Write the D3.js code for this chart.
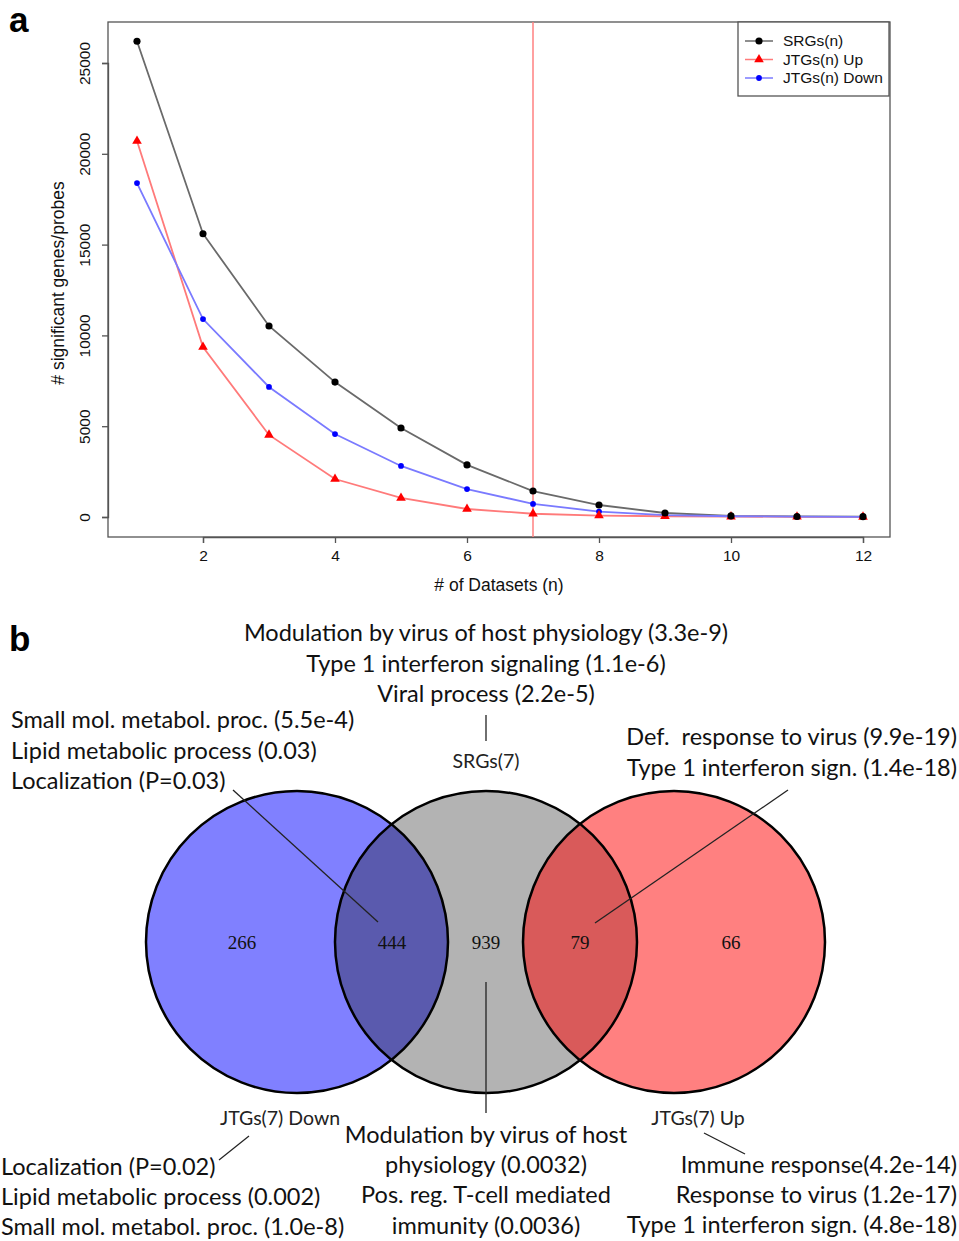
<!DOCTYPE html>
<html>
<head>
<meta charset="utf-8">
<script src="https://cdnjs.cloudflare.com/ajax/libs/d3/7.8.5/d3.min.js"></script>
<style>
  body { margin: 0; background: #fff; }
  svg { display: block; }
</style>
</head>
<body>
<div id="chart"></div>
<script>
// ---- panel a data ----
const datasets = [1, 2, 3, 4, 5, 6, 7, 8, 9, 10, 11, 12];
const srgs = [26200, 15600, 10520, 7430, 4900, 2870, 1430, 660, 220, 60, 30, 20];
const jtgsUp = [20700, 9360, 4520, 2090, 1050, 440, 180, 80, 40, 20, 10, 5];
const jtgsDown = [18390, 10900, 7160, 4570, 2810, 1540, 720, 300, 100, 40, 20, 10];
const xTicks = [2, 4, 6, 8, 10, 12];
const yTicks = [0, 5000, 10000, 15000, 20000, 25000];
const cutoff = 7;
const legendLabels = ['SRGs(n)', 'JTGs(n) Up', 'JTGs(n) Down'];

// ---- panel b data ----
const vennSets = ['JTGs(7) Down', 'SRGs(7)', 'JTGs(7) Up'];
const vennCounts = [266, 444, 939, 79, 66];
const topTerms = ['Modulation by virus of host physiology (3.3e-9)', 'Type 1 interferon signaling (1.1e-6)', 'Viral process (2.2e-5)'];
const leftTopTerms = ['Small mol. metabol. proc. (5.5e-4)', 'Lipid metabolic process (0.03)', 'Localization (P=0.03)'];
const rightTopTerms = ['Def.  response to virus (9.9e-19)', 'Type 1 interferon sign. (1.4e-18)'];
const leftBottomTerms = ['Localization (P=0.02)', 'Lipid metabolic process (0.002)', 'Small mol. metabol. proc. (1.0e-8)'];
const midBottomTerms = ['Modulation by virus of host', 'physiology (0.0032)', 'Pos. reg. T-cell mediated', 'immunity (0.0036)'];
const rightBottomTerms = ['Immune response(4.2e-14)', 'Response to virus (1.2e-17)', 'Type 1 interferon sign. (4.8e-18)'];

const W = 959, H = 1241;
const svg = d3.select('#chart').append('svg').attr('width', W).attr('height', H);
const rFont = 'Liberation Sans, Arial, sans-serif';
const cFont = 'Lato, Open Sans, sans-serif';

// panel letters
svg.append('text').attr('x', 9).attr('y', 32).text('a')
    .style('font-family', rFont).style('font-weight', 'bold').style('font-size', '35px');
svg.append('text').attr('x', 9).attr('y', 651).text('b')
    .style('font-family', rFont).style('font-weight', 'bold').style('font-size', '35px');

// ================= panel a =================
const box = {left: 108, right: 890, top: 22, bottom: 537};
const x = d3.scaleLinear().domain([2, 12]).range([203, 863]);
const y = d3.scaleLinear().domain([0, 25000]).range([517, 63]);

const gA = svg.append('g');
gA.append('rect')
    .attr('x', box.left).attr('y', box.top)
    .attr('width', box.right - box.left).attr('height', box.bottom - box.top)
    .attr('fill', 'none').attr('stroke', '#555').attr('stroke-width', 1.3);

// x axis
const xAxis = gA.append('g').attr('transform', 'translate(0,' + box.bottom + ')')
    .call(d3.axisBottom(x).tickValues(xTicks).tickSize(6).tickPadding(7));
xAxis.select('.domain').attr('stroke', '#555').attr('stroke-width', 1.3);
xAxis.selectAll('.tick line').attr('stroke', '#555').attr('stroke-width', 1.3);
xAxis.selectAll('text').style('font-family', rFont).style('font-size', '15.5px').attr('fill', '#111');

// y axis
const yAxis = gA.append('g').attr('transform', 'translate(' + box.left + ',0)')
    .call(d3.axisLeft(y).tickValues(yTicks).tickSize(6).tickFormat(d3.format('d')));
yAxis.select('.domain').attr('stroke', '#555').attr('stroke-width', 1.3);
yAxis.selectAll('.tick line').attr('stroke', '#555').attr('stroke-width', 1.3);
yAxis.selectAll('text')
    .attr('x', 0).attr('dy', 0)
    .attr('transform', 'translate(-22,0) rotate(-90)')
    .attr('text-anchor', 'middle')
    .attr('dominant-baseline', 'middle')
    .style('font-family', rFont).style('font-size', '15.5px').attr('fill', '#111');

gA.append('text').attr('x', 499).attr('y', 591)
    .attr('text-anchor', 'middle').text('# of Datasets (n)')
    .style('font-family', rFont).style('font-size', '17.5px').attr('fill', '#111');
gA.append('text').attr('transform', 'translate(64,283) rotate(-90)')
    .attr('text-anchor', 'middle').text('# significant genes/probes')
    .style('font-family', rFont).style('font-size', '17.5px').attr('fill', '#111');

// cutoff line
gA.append('line').attr('x1', x(cutoff)).attr('x2', x(cutoff))
    .attr('y1', box.top).attr('y2', box.bottom)
    .attr('stroke', '#ff8080').attr('stroke-width', 1.5);

const series = [
    {name: legendLabels[0], values: srgs, line: '#6a6a6a', pt: '#000', shape: 'circle'},
    {name: legendLabels[1], values: jtgsUp, line: '#ff7a7a', pt: '#ff0000', shape: 'triangle'},
    {name: legendLabels[2], values: jtgsDown, line: '#7a7aff', pt: '#0000ff', shape: 'diamond'}
];
const lineGen = d3.line().x(function (d, i) { return x(datasets[i]); }).y(function (d) { return y(d); });

const symbolFor = function (s) {
    if (s.shape === 'triangle') return d3.symbol().type(d3.symbolTriangle).size(40)();
    if (s.shape === 'diamond') return d3.symbol().type(d3.symbolCircle).size(26)();
    return d3.symbol().type(d3.symbolCircle).size(40)();
};

series.forEach(function (s) {
    gA.append('path').attr('d', lineGen(s.values))
        .attr('fill', 'none').attr('stroke', s.line).attr('stroke-width', 1.8);
});
series.slice().reverse().forEach(function (s) {
    gA.selectAll(null).data(s.values).enter().append('path')
        .attr('d', symbolFor(s))
        .attr('transform', function (d, i) { return 'translate(' + x(datasets[i]) + ',' + y(d) + ')'; })
        .attr('fill', s.pt);
});

// legend
const lg = gA.append('g').attr('transform', 'translate(738,22)');
lg.append('rect').attr('width', 151).attr('height', 74)
    .attr('fill', '#fff').attr('stroke', '#555').attr('stroke-width', 1.3);
series.forEach(function (s, i) {
    const yy = 19 + i * 18.5;
    lg.append('line').attr('x1', 7).attr('x2', 35).attr('y1', yy).attr('y2', yy)
        .attr('stroke', s.line).attr('stroke-width', 1.5);
    lg.append('path').attr('d', symbolFor(s)).attr('transform', 'translate(21,' + yy + ')').attr('fill', s.pt);
    lg.append('text').attr('x', 45).attr('y', yy).attr('dy', '0.35em').text(s.name)
        .style('font-family', rFont).style('font-size', '15.5px').attr('fill', '#111');
});

// ================= panel b =================
const gB = svg.append('g');
const cy = 942, rad = 151;
const centers = [297, 486, 674];
const fills = ['#8080ff', '#b3b3b3', '#ff8080'];

const defs = svg.append('defs');
centers.forEach(function (cx, i) {
    defs.append('clipPath').attr('id', 'clip' + i)
        .append('circle').attr('cx', cx).attr('cy', cy).attr('r', rad);
});

gB.selectAll('circle.fill').data(centers).enter().append('circle')
    .attr('class', 'fill')
    .attr('cx', function (d) { return d; }).attr('cy', cy).attr('r', rad)
    .attr('fill', function (d, i) { return fills[i]; });
// overlaps
gB.append('circle').attr('cx', centers[0]).attr('cy', cy).attr('r', rad)
    .attr('clip-path', 'url(#clip1)').attr('fill', '#5a5aae');
gB.append('circle').attr('cx', centers[2]).attr('cy', cy).attr('r', rad)
    .attr('clip-path', 'url(#clip1)').attr('fill', '#d95a5a');
gB.selectAll('circle.edge').data(centers).enter().append('circle')
    .attr('class', 'edge')
    .attr('cx', function (d) { return d; }).attr('cy', cy).attr('r', rad)
    .attr('fill', 'none').attr('stroke', '#000').attr('stroke-width', 2.5);

const countX = [242, 392, 486, 580, 731];
gB.selectAll('text.count').data(vennCounts).enter().append('text')
    .attr('class', 'count')
    .attr('x', function (d, i) { return countX[i]; }).attr('y', cy).attr('dy', '0.35em')
    .attr('text-anchor', 'middle').text(function (d) { return d; })
    .style('font-family', 'Liberation Serif, serif').style('font-size', '19px').attr('fill', '#111');

// set labels
const setLabelPos = [[280, 1125], [486, 768], [698, 1125]];
gB.selectAll('text.setlab').data(vennSets).enter().append('text')
    .attr('class', 'setlab')
    .attr('x', function (d, i) { return setLabelPos[i][0]; })
    .attr('y', function (d, i) { return setLabelPos[i][1]; })
    .attr('text-anchor', 'middle').text(function (d) { return d; })
    .style('font-family', cFont).style('font-size', '19.5px').attr('fill', '#222');

const termBlock = function (lines, xPos, y0, step, anchor) {
    gB.selectAll(null).data(lines).enter().append('text')
        .attr('x', xPos).attr('y', function (d, i) { return y0 + i * step; })
        .attr('text-anchor', anchor).text(function (d) { return d; })
        .style('font-family', cFont).style('font-size', '23.5px').attr('fill', '#111')
        .style('white-space', 'pre');
};
termBlock(topTerms, 486, 641, 30.5, 'middle');
termBlock(leftTopTerms, 11, 728, 30.5, 'start');
termBlock(rightTopTerms, 957, 745, 30.5, 'end');
termBlock(leftBottomTerms, 1, 1175, 30, 'start');
termBlock(midBottomTerms, 486, 1143, 30.2, 'middle');
termBlock(rightBottomTerms, 957, 1173, 30, 'end');

// leader lines
const leaders = [
    [486, 715, 486, 741],
    [233, 790, 378, 922],
    [788, 790, 595, 923],
    [486, 982, 486, 1113],
    [219, 1160, 249, 1136],
    [704, 1133, 745, 1154]
];
gB.selectAll('line.leader').data(leaders).enter().append('line')
    .attr('x1', function (d) { return d[0]; }).attr('y1', function (d) { return d[1]; })
    .attr('x2', function (d) { return d[2]; }).attr('y2', function (d) { return d[3]; })
    .attr('stroke', '#222').attr('stroke-width', 1.3);
</script>
</body>
</html>
